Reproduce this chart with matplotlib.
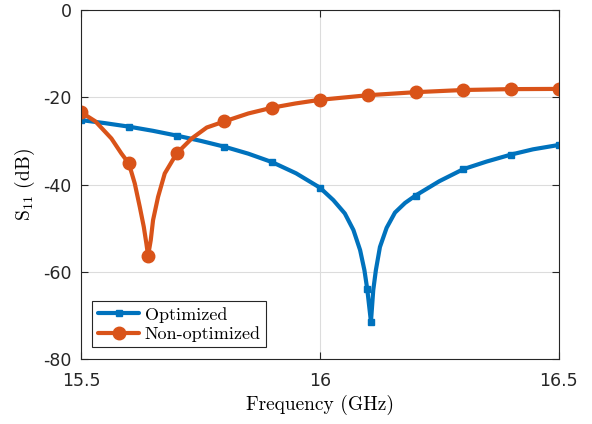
import numpy as np
import matplotlib.pyplot as plt

plt.rcParams['mathtext.fontset'] = 'cm'

# ---- data (GHz, dB) ----
f_opt = [15.5, 15.55, 15.6, 15.65, 15.7, 15.75, 15.8, 15.85, 15.9, 15.95, 16.0,
         16.028, 16.052, 16.07, 16.084, 16.093, 16.099, 16.1067, 16.1115, 16.117,
         16.1255, 16.1395, 16.157, 16.178, 16.2, 16.25, 16.3, 16.349, 16.4, 16.446, 16.5]
s_opt = [-25.2, -25.9, -26.7, -27.65, -28.75, -29.95, -31.3, -32.9, -34.85, -37.4, -40.7,
         -43.55, -46.6, -50.4, -55.0, -59.6, -64.0, -71.45, -64.2, -59.6,
         -54.3, -49.9, -46.4, -44.2, -42.5, -39.2, -36.45, -34.7, -33.1, -31.9, -30.9]
opt_marks = [0, 2, 4, 6, 8, 10, 16, 17, 24, 26, 28, 30]

f_non = [15.5, 15.53, 15.5634, 15.5843, 15.6, 15.6123, 15.6228, 15.6312, 15.6366,
         15.6402, 15.6458, 15.6506, 15.6611, 15.6751, 15.7, 15.7316, 15.763, 15.8,
         15.85, 15.9, 15.948, 16.0, 16.1, 16.2, 16.3, 16.4, 16.5]
s_non = [-23.4, -25.5, -29.41, -32.85, -35.15, -39.72, -45.09, -49.67, -53.48,
         -56.32, -52.72, -48.14, -42.8, -37.43, -32.85, -29.41, -26.9, -25.5,
         -23.68, -22.35, -21.4, -20.55, -19.5, -18.8, -18.3, -18.1, -18.05]
non_marks = [0, 4, 9, 14, 17, 19, 21, 22, 23, 24, 25, 26]

blue = '#0072BD'
orange = '#D95319'

fig = plt.figure(figsize=(5.92, 4.24), dpi=100)
ax = fig.add_axes([0.137, 0.153, 0.807, 0.823])

ax.plot(f_opt, s_opt, color=blue, lw=3, marker='s', ms=4, markevery=opt_marks,
        label='Optimized', solid_joinstyle='round', solid_capstyle='round')
ax.plot(f_non, s_non, color=orange, lw=3, marker='o', ms=9, markevery=non_marks,
        label='Non-optimized', solid_joinstyle='round', solid_capstyle='round')

ax.set_xlim(15.5, 16.5)
ax.set_ylim(-80, 0)
ax.set_xticks([15.5, 16, 16.5])
ax.set_xticklabels(['15.5', '16', '16.5'])
ax.set_yticks([-80, -60, -40, -20, 0])
ax.set_yticklabels(['-80', '-60', '-40', '-20', '0'])
ax.grid(True, color='#dcdcdc', lw=0.8)
ax.set_axisbelow(True)
ax.tick_params(direction='in', top=True, right=True, labelsize=12.5,
               colors='#262626', length=5)
ax.tick_params(axis='x', pad=9)
ax.tick_params(axis='y', pad=7)
for s in ax.spines.values():
    s.set_color('#262626')
    s.set_linewidth(0.8)

ax.set_xlabel('Frequency (GHz)', fontfamily='cmr10', fontsize=14, labelpad=4)
ax.set_ylabel(r'$\mathrm{S}_{11}$ (dB)', fontfamily='cmr10', fontsize=14, labelpad=4)

leg = ax.legend(loc='lower left', bbox_to_anchor=(0.0236, 0.0335),
                prop={'family': 'cmr10', 'size': 13}, fancybox=False,
                edgecolor='#262626', framealpha=1, borderaxespad=0,
                handlelength=2.3, handletextpad=0.3, borderpad=0.3,
                labelspacing=0.2)
leg.get_frame().set_linewidth(0.8)

fig.savefig('out.png', dpi=100)
